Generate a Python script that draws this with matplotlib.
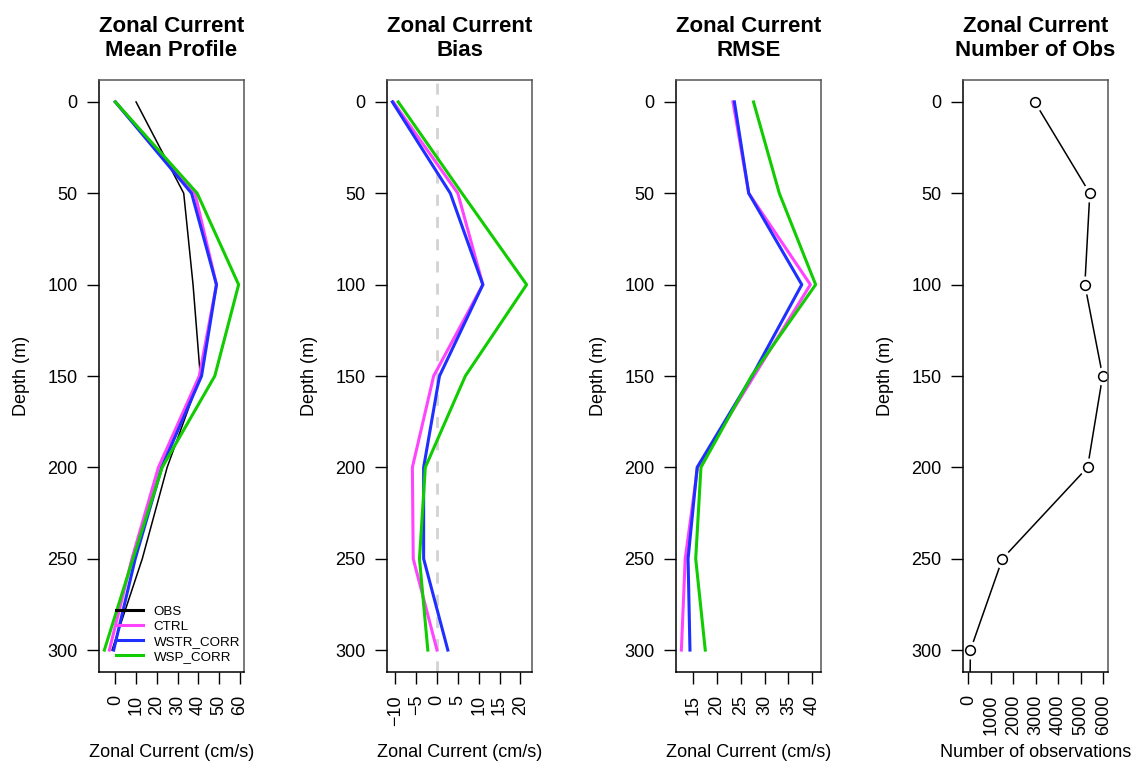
import numpy as np
import matplotlib
matplotlib.use("Agg")
import matplotlib.pyplot as plt

plt.rcParams['font.family'] = ['Liberation Sans', 'DejaVu Sans']

depth = [0, 50, 100, 150, 200, 250, 300]

# mean profile (cm/s)
mean_obs = [10, 33, 37.5, 41, 25, 13, -1.6]
mean_ctrl = [0, 38.4, 48.8, 40.5, 20.8, 8, -2.9]
mean_wstr = [0, 36.8, 48.8, 41.6, 22.4, 9.6, -0.8]
mean_wsp = [0, 39.5, 59.5, 48, 22.6, 8.5, -5.3]

# bias (cm/s)
bias_ctrl = [-10.5, 5.0, 11.0, -0.8, -5.9, -5.7, 0.0]
bias_wstr = [-10.7, 3.2, 11.0, 0.6, -3.2, -3.2, 2.6]
bias_wsp = [-9.3, 6.0, 21.5, 6.8, -2.8, -4.2, -2.2]

# rmse (cm/s)
rmse_ctrl = [23.4, 26.7, 39.6, 27.8, 16.0, 13.4, 12.6]
rmse_wstr = [23.7, 26.7, 37.8, 27.4, 15.9, 14.0, 14.4]
rmse_wsp = [27.7, 33.1, 40.7, 27.3, 16.7, 15.6, 17.6]

# observation counts (last level lies below the plotted depth range)
obs_depth = [0, 50, 100, 150, 200, 250, 300, 400]
n_obs = [2950, 5400, 5180, 5970, 5300, 1515, 90, 0]

exp_names = ["CTRL", "WSTR_CORR", "WSP_CORR"]
exp_colors = ["#ff44ff", "#1f2fff", "#11cc00"]

fig = plt.figure(figsize=(11.42, 7.69), dpi=100)
W, H = 1142.0, 769.0
lefts = [99, 387, 676, 963]
top, bottom, width = 80, 672, 145

titles = ["Zonal Current\nMean Profile", "Zonal Current\nBias",
          "Zonal Current\nRMSE", "Zonal Current\nNumber of Obs"]
xlabels = ["Zonal Current (cm/s)"] * 3 + ["Number of observations"]
xticks = [np.arange(0, 61, 10), np.arange(-10, 21, 5),
          np.arange(15, 41, 5), np.arange(0, 6001, 1000)]

axes = []
for l in lefts:
    ax = fig.add_axes([l / W, 1 - bottom / H, width / W, (bottom - top) / H])
    axes.append(ax)

# panel 1: mean profiles
ax = axes[0]
ax.plot(mean_obs, depth, color="black", lw=1.1, label="OBS")
for vals, name, c in zip([mean_ctrl, mean_wstr, mean_wsp], exp_names, exp_colors):
    ax.plot(vals, depth, color=c, lw=2.2, label=name)
leg = ax.legend(loc="lower right", bbox_to_anchor=(1.0, 0.009), frameon=False,
                fontsize=9.6, handlelength=2.0, borderaxespad=0.0, borderpad=0.3,
                labelspacing=0.2, handletextpad=0.8)
for h in leg.get_lines():
    h.set_linewidth(2.2)

# panel 2: bias
ax = axes[1]
ax.axvline(0, color="#d3d3d3", lw=2, ls=(0, (4, 4)))
for vals, c in zip([bias_ctrl, bias_wstr, bias_wsp], exp_colors):
    ax.plot(vals, depth, color=c, lw=2.2)

# panel 3: rmse
ax = axes[2]
for vals, c in zip([rmse_ctrl, rmse_wstr, rmse_wsp], exp_colors):
    ax.plot(vals, depth, color=c, lw=2.2)

# panel 4: number of observations, line with gaps at the points
ax = axes[3]
ax.plot(n_obs, obs_depth, color="black", lw=1.1)
ax.plot(n_obs, obs_depth, ls="none", marker="o", ms=13, mfc="white", mec="none")
ax.plot(n_obs, obs_depth, ls="none", marker="o", ms=7, mfc="white", mec="black", mew=1.1)

xlims = [None, None, None, (-239, 6209)]
for i, ax in enumerate(axes):
    if xlims[i] is None:
        ax.margins(x=0.04)
    else:
        ax.set_xlim(*xlims[i])
    ax.set_ylim(312, -12)
    ax.set_yticks(depth)
    ax.set_xticks(xticks[i])
    ax.tick_params(axis="x", labelrotation=90, length=8.5, width=1, pad=8, labelsize=13)
    ax.tick_params(axis="y", length=8.5, width=1, pad=7, labelsize=13)
    for s in ax.spines.values():
        s.set_color("#555555")
        s.set_linewidth(1.1)
    ax.spines["left"].set_color("black")
    ax.spines["bottom"].set_color("black")
    ax.set_title(titles[i], fontsize=16, fontweight="bold", pad=17, linespacing=1.2)
    ax.set_ylabel("Depth (m)", fontsize=13)
    ax.yaxis.set_label_coords(-69 / width, 0.5)
    ax.set_xlabel(xlabels[i], fontsize=13)
    ax.xaxis.set_label_coords(0.5, -(744 - bottom) / (bottom - top))

fig.savefig("out.png", dpi=100)
